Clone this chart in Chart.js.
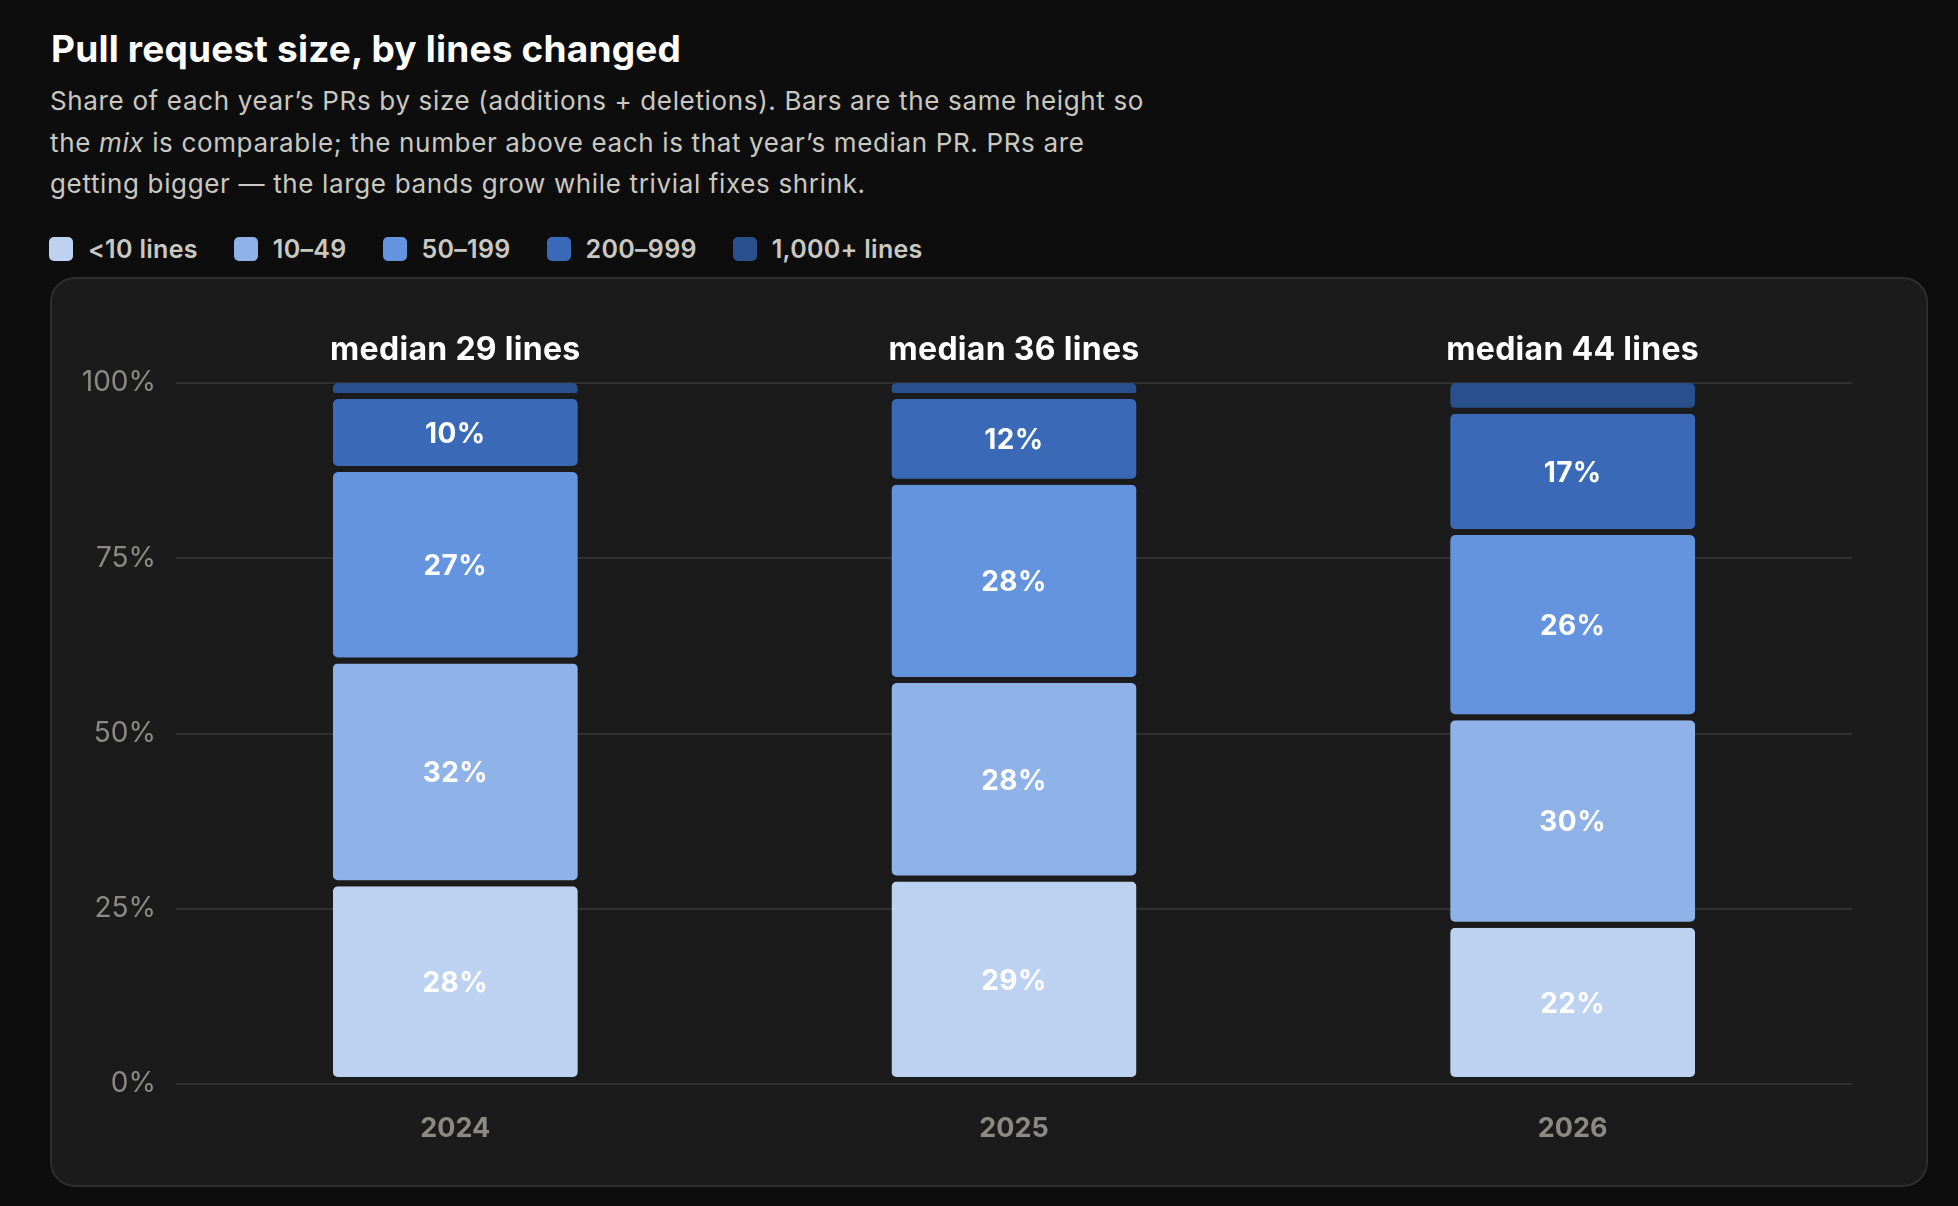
<!DOCTYPE html>
<html lang="en">
<head>
    <meta charset="UTF-8">
    <title>Pull request size, by lines changed</title>
    <script src="https://cdn.jsdelivr.net/npm/chart.js"></script>
    <style>
        body { margin: 0; background: #0d0d0d; font-family: Inter, "Noto Sans", sans-serif; width: 1958px; height: 1206px; overflow: hidden; position: relative; }
        h1 { position: absolute; left: 51px; top: 30px; margin: 0; font-size: 37px; line-height: 37px; font-weight: 700; color: #ffffff; letter-spacing: 0.2px; }
        .sub { position: absolute; left: 50px; top: 80px; margin: 0; font-size: 26px; line-height: 41.5px; color: #c9c8c1; letter-spacing: 0.65px; }
        #legend { position: absolute; left: 49px; top: 237px; height: 24px; display: flex; align-items: center; }
        .item { display: flex; align-items: center; margin-right: 36px; font-size: 25px; font-weight: 600; color: #c9c8c1; letter-spacing: 0.3px; }
        .box { width: 24px; height: 24px; border-radius: 5px; margin-right: 15px; }
        .card { position: absolute; left: 50px; top: 277px; width: 1878px; height: 910px; box-sizing: border-box; background: #1b1b1b; border: 2px solid #2e2e2e; border-radius: 25px; }
        #wrap { position: absolute; left: 50px; top: 277px; width: 1878px; height: 910px; }
    </style>
</head>
<body>
    <h1>Pull request size, by lines changed</h1>
    <p class="sub">Share of each year’s PRs by size (additions + deletions). Bars are the same height so<br>the <i>mix</i> is comparable; the number above each is that year’s median PR. PRs are<br>getting bigger — the large bands grow while trivial fixes shrink.</p>
    <div id="legend"></div>
    <div class="card"></div>
    <div id="wrap"><canvas id="prChart" width="1878" height="910"></canvas></div>

    <script>
        // data (share of PRs, %)
        const years = ['2024', '2025', '2026'];
        const sizeBands = ['<10 lines', '10–49', '50–199', '200–999', '1,000+ lines'];
        const under10 = [28.2, 28.9, 22.3];
        const from10to49 = [31.8, 28.3, 29.6];
        const from50to199 = [27.3, 28.3, 26.4];
        const from200to999 = [10.4, 12.2, 17.3];
        const over1000 = [2.3, 2.3, 4.4];
        const medians = [29, 36, 44];
        const yTicks = [0, 25, 50, 75, 100];
        const bandColors = ['#bdd2f1', '#8fb2e8', '#6594df', '#3a6ab7', '#2a4f8d'];

        const GAP = 6; // dark gap under each band

        document.addEventListener("DOMContentLoaded", function() {
            // legend above the card
            const legend = document.getElementById('legend');
            sizeBands.forEach((name, i) => {
                const item = document.createElement('div');
                item.className = 'item';
                item.innerHTML = '<span class="box" style="background:' + bandColors[i] + '"></span>' + name;
                legend.appendChild(item);
            });

            // percent labels in the bands and median label on top of each bar
            const barLabels = {
                id: 'barLabels',
                afterDatasetsDraw(chart) {
                    const c = chart.ctx;
                    c.save();
                    c.fillStyle = '#ffffff';
                    c.textAlign = 'center';
                    c.letterSpacing = '0.4px';
                    c.font = '700 28px Inter';
                    c.textBaseline = 'middle';
                    chart.data.datasets.forEach((ds, di) => {
                        if (di === chart.data.datasets.length - 1) return; // no label on the thin top band
                        chart.getDatasetMeta(di).data.forEach((bar, i) => {
                            const mid = (bar.y + bar.base - GAP) / 2;
                            c.fillText(Math.round(ds.data[i]) + '%', bar.x, mid + 2);
                        });
                    });
                    c.font = '700 32px Inter';
                    c.letterSpacing = '0.3px';
                    c.textBaseline = 'alphabetic';
                    chart.getDatasetMeta(0).data.forEach((bar, i) => {
                        c.fillText('median ' + medians[i] + ' lines', bar.x, chart.chartArea.top - 23);
                    });
                    c.restore();
                }
            };

            const bands = [under10, from10to49, from50to199, from200to999, over1000];

            const ctx = document.getElementById('prChart').getContext('2d');
            new Chart(ctx, {
                type: 'bar',
                data: {
                    labels: years,
                    datasets: bands.map((vals, i) => ({
                        label: sizeBands[i],
                        data: vals,
                        backgroundColor: bandColors[i],
                        borderColor: 'rgba(0,0,0,0)',
                        borderWidth: { top: 0, bottom: GAP, left: 0, right: 0 },
                        borderSkipped: false,
                        borderRadius: { topLeft: 5, topRight: 5, bottomLeft: 5 + GAP, bottomRight: 5 + GAP },
                        inflateAmount: 0,
                        barPercentage: 0.4385,
                        categoryPercentage: 1
                    }))
                },
                options: {
                    responsive: false,
                    devicePixelRatio: 1,
                    animation: false,
                    layout: { padding: { left: 0, top: 106, right: 76, bottom: 0 } },
                    plugins: { legend: { display: false }, tooltip: { enabled: false } },
                    scales: {
                        x: {
                            stacked: true,
                            grid: { display: false, drawTicks: false },
                            border: { display: false },
                            ticks: { color: '#8b8a85', font: { family: 'Inter', size: 27, weight: '700' }, padding: 29 },
                            afterFit: (scale) => { scale.height = 103; }
                        },
                        y: {
                            stacked: true,
                            min: 0,
                            max: 100,
                            afterBuildTicks: (scale) => { scale.ticks = yTicks.map(v => ({ value: v })); },
                            grid: { color: '#303030', lineWidth: 2, drawTicks: false },
                            border: { display: false },
                            ticks: {
                                color: '#8b8a85',
                                font: { family: 'Inter', size: 28 },
                                padding: 20,
                                callback: (v) => v + '%'
                            },
                            afterFit: (scale) => { scale.width = 126; }
                        }
                    }
                },
                plugins: [barLabels]
            });
        });
    </script>
</body>
</html>
